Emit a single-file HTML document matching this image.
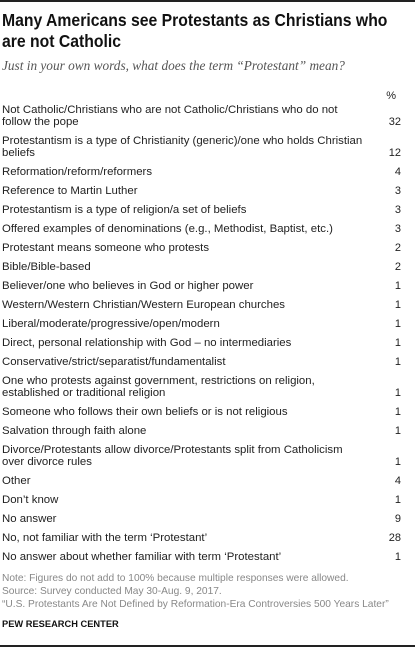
<!DOCTYPE html>
<html><head><meta charset="utf-8">
<style>
body{margin:0;width:415px;height:647px;background:#fff;position:relative;overflow:hidden;font-family:"Liberation Sans",sans-serif;color:#222}
.a{position:absolute;white-space:nowrap}
#title{left:2px;top:10px;font-size:17.5px;font-weight:bold;line-height:20.5px;color:#111;transform:scaleX(0.9);transform-origin:0 0}
#sub{left:2px;top:58px;font-family:"Liberation Serif",serif;font-style:italic;font-size:13.3px;color:#555}
.lab{font-size:11.4px;line-height:12px;left:2px}
.val{font-size:11px;line-height:12px;width:30px;text-align:right;left:371px}
.note{left:2px;font-size:10.2px;color:#888;line-height:13px}
</style></head><body>
<div class="a" style="left:0;top:0;width:415px;height:1.5px;background:#222"></div>
<div class="a" id="title">Many Americans see Protestants as Christians who<br>are not Catholic</div>
<div class="a" id="sub">Just in your own words, what does the term “Protestant” mean?</div>
<div class="a val" style="top:90px;left:366px">%</div>
<div id="rows"></div>
<div class="a note" style="top:572px">Note: Figures do not add to 100% because multiple responses were allowed.<br>Source: Survey conducted May 30-Aug. 9, 2017.<br>“U.S. Protestants Are Not Defined by Reformation-Era Controversies 500 Years Later”</div>
<div class="a" style="left:2px;top:619px;font-size:9.3px;font-weight:bold;color:#111">PEW RESEARCH CENTER</div>
<div class="a" style="left:0;top:645px;width:415px;height:1.5px;background:#222"></div>
<script>
const labels=[
["Not Catholic/Christians who are not Catholic/Christians who do not","follow the pope"],
["Protestantism is a type of Christianity (generic)/one who holds Christian","beliefs"],
["Reformation/reform/reformers"],
["Reference to Martin Luther"],
["Protestantism is a type of religion/a set of beliefs"],
["Offered examples of denominations (e.g., Methodist, Baptist, etc.)"],
["Protestant means someone who protests"],
["Bible/Bible-based"],
["Believer/one who believes in God or higher power"],
["Western/Western Christian/Western European churches"],
["Liberal/moderate/progressive/open/modern"],
["Direct, personal relationship with God \u2013 no intermediaries"],
["Conservative/strict/separatist/fundamentalist"],
["One who protests against government, restrictions on religion,","established or traditional religion"],
["Someone who follows their own beliefs or is not religious"],
["Salvation through faith alone"],
["Divorce/Protestants allow divorce/Protestants split from Catholicism","over divorce rules"],
["Other"],
["Don\u2019t know"],
["No answer"],
["No, not familiar with the term \u2018Protestant\u2019"],
["No answer about whether familiar with term \u2018Protestant\u2019"]
];
const values=[32,12,4,3,3,3,2,2,1,1,1,1,1,1,1,1,1,4,1,9,28,1];
const root=document.getElementById('rows');
let y=110;
labels.forEach((lines,i)=>{
  const l=document.createElement('div');
  l.className='a lab';
  
  
  l.style.top=(y-6)+'px';
  l.innerHTML=lines.join('<br>');
  root.appendChild(l);
  const last=y+12*(lines.length-1);
  const v=document.createElement('div');
  v.className='a val';
  
  
  v.style.top=(last-6)+'px';
  v.textContent=values[i];
  root.appendChild(v);
  y=last+19;
});
</script>
</body></html>
